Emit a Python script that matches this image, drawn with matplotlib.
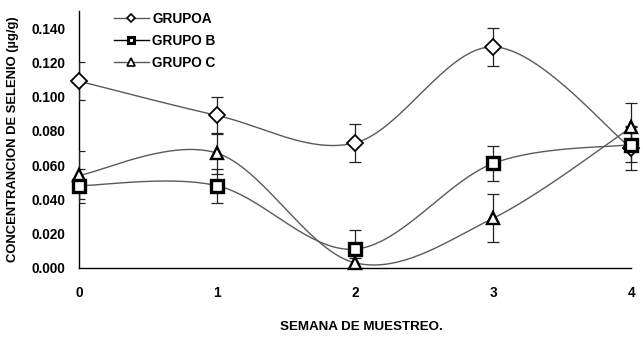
import numpy as np
import matplotlib
matplotlib.use('Agg')
import matplotlib.pyplot as plt
from matplotlib.lines import Line2D

plt.rcParams['font.family'] = ['Liberation Sans', 'DejaVu Sans']
plt.rcParams['font.weight'] = 'bold'

semanas = [0, 1, 2, 3, 4]
grupo_a = [0.109, 0.089, 0.073, 0.129, 0.070]
grupo_a_err = [0.011, 0.011, 0.011, 0.011, 0.013]
grupo_b = [0.048, 0.048, 0.011, 0.061, 0.072]
grupo_b_err = [0.010, 0.010, 0.011, 0.010, 0.010]
grupo_c = [0.054, 0.067, 0.003, 0.029, 0.082]
grupo_c_err = [0.014, 0.012, 0.003, 0.014, 0.014]
y_ticks = [0.0, 0.02, 0.04, 0.06, 0.08, 0.10, 0.12, 0.14]


def smooth(x, y, n=40):
    # excel style smoothed line (catmull-rom as bezier)
    x = np.asarray(x, float)
    y = np.asarray(y, float)
    p = np.column_stack([x, y])
    p = np.vstack([p[0], p, p[-1]])
    out = []
    t = np.linspace(0, 1, n)[:, None]
    for i in range(1, len(p) - 2):
        p0, p1, p2, p3 = p[i - 1], p[i], p[i + 1], p[i + 2]
        c1 = p1 + (p2 - p0) / 6
        c2 = p2 - (p3 - p1) / 6
        seg = ((1 - t) ** 3) * p1 + 3 * ((1 - t) ** 2) * t * c1 + 3 * (1 - t) * t ** 2 * c2 + t ** 3 * p2
        out.append(seg)
    out = np.vstack(out)
    return out[:, 0], out[:, 1]


fig = plt.figure(figsize=(6.43, 3.51), dpi=100)
# x=0 at px 79, x=4 at px 631, a little room right of 4
ax = fig.add_axes([0.1229, 0.2365, (638 - 79) / 643, 0.7325])

series = [
    (grupo_a, grupo_a_err, 'D', 8, 1.3),
    (grupo_c, grupo_c_err, '^', 9, 1.7),
    (grupo_b, grupo_b_err, 's', 8.5, 2.4),
]
for vals, err, mk, ms, mew in series:
    sx, sy = smooth(semanas, vals)
    ax.plot(sx, sy, color='#5a5a5a', lw=1.0, zorder=2)
    ax.errorbar(semanas, vals, yerr=err, fmt='none', ecolor='#222222',
                elinewidth=0.9, capsize=4, capthick=0.9, zorder=3)
    ax.plot(semanas, vals, linestyle='none', marker=mk, ms=ms,
            mfc='white', mec='black', mew=mew, zorder=4, clip_on=False)

ax.set_xlim(0, 4.05)
ax.set_ylim(0, 0.15)
ax.set_yticks(y_ticks)
ax.set_yticklabels(['%.3f' % v for v in y_ticks])
ax.set_xticks(semanas)
ax.tick_params(axis='y', length=0, pad=10, labelsize=9.8)
ax.tick_params(axis='x', length=0, pad=13, labelsize=9.8)
for s in ['top', 'right']:
    ax.spines[s].set_visible(False)
for s in ['left', 'bottom']:
    ax.spines[s].set_linewidth(1.0)
    ax.spines[s].set_color('black')
ax.spines['bottom'].set_bounds(0, 4)

ax.set_xlabel('SEMANA DE MUESTREO.', fontsize=9.6, fontweight='bold', labelpad=20)
ax.set_ylabel('CONCENTRANCION DE SELENIO (µg/g)', fontsize=9.4, fontweight='bold', labelpad=9)
ax.xaxis.set_label_coords(0.505, -0.205)

handles = [
    Line2D([], [], color='#5a5a5a', lw=1.0, marker='D', ms=4.5, mfc='white', mec='black', mew=1.2),
    Line2D([], [], color='black', lw=1.0, marker='s', ms=5, mfc='white', mec='black', mew=2.2),
    Line2D([], [], color='#5a5a5a', lw=1.0, marker='^', ms=6, mfc='white', mec='black', mew=1.2),
]
ax.legend(handles, ['GRUPOA', 'GRUPO B', 'GRUPO C'], loc='upper left',
          bbox_to_anchor=(0.04, 1.045), frameon=False, handlelength=2.6,
          handletextpad=0.25, labelspacing=0.6, prop={'size': 9.8, 'weight': 'bold'})

fig.savefig('out.png', dpi=100)
